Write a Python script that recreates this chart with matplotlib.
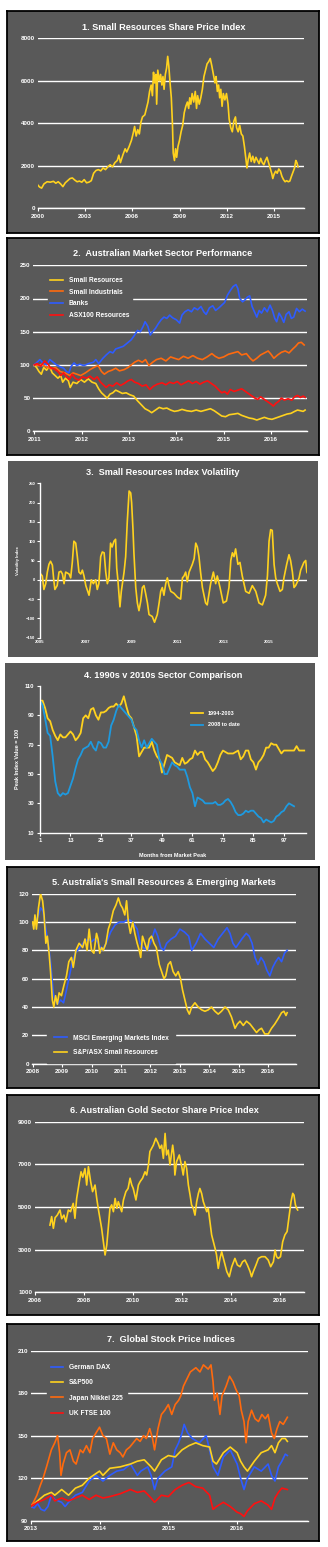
import matplotlib
matplotlib.use('Agg')
import matplotlib.pyplot as plt

plt.rcParams['font.family'] = ['Liberation Sans', 'DejaVu Sans']
plt.rcParams['font.weight'] = 'bold'

# ---------------- data ----------------
# 1. Small Resources share price index
p1_year = [2000.00, 2000.12, 2000.25, 2000.40, 2000.60, 2000.80, 2001.00, 2001.15, 2001.30, 2001.45,
           2001.60, 2001.75, 2001.90, 2002.05, 2002.20, 2002.35, 2002.50, 2002.65, 2002.80, 2002.95,
           2003.10, 2003.25, 2003.40, 2003.55, 2003.70, 2003.85, 2004.00, 2004.15, 2004.30, 2004.45,
           2004.60, 2004.75, 2004.90, 2005.05, 2005.15, 2005.25, 2005.40, 2005.55, 2005.65, 2005.80,
           2005.95, 2006.05, 2006.15, 2006.25, 2006.35, 2006.45, 2006.55, 2006.65, 2006.80, 2006.90,
           2007.00, 2007.10, 2007.20, 2007.28, 2007.35, 2007.42, 2007.50, 2007.55, 2007.62, 2007.72,
           2007.80, 2007.88, 2007.95, 2008.02, 2008.10, 2008.18, 2008.25, 2008.32, 2008.40, 2008.48,
           2008.55, 2008.60, 2008.68, 2008.75, 2008.82, 2008.90, 2009.00, 2009.10, 2009.20, 2009.30,
           2009.40, 2009.50, 2009.58, 2009.65, 2009.72, 2009.80, 2009.90, 2010.00, 2010.08, 2010.15,
           2010.25, 2010.35, 2010.45, 2010.55, 2010.65, 2010.75, 2010.85, 2010.95, 2011.05, 2011.15,
           2011.25, 2011.32, 2011.40, 2011.48, 2011.55, 2011.62, 2011.70, 2011.78, 2011.88, 2011.98,
           2012.08, 2012.15, 2012.25, 2012.35, 2012.45, 2012.55, 2012.62, 2012.72, 2012.82, 2012.92,
           2013.02, 2013.12, 2013.20, 2013.28, 2013.36, 2013.45, 2013.55, 2013.65, 2013.75, 2013.85,
           2013.95, 2014.05, 2014.15, 2014.25, 2014.35, 2014.45, 2014.55, 2014.65, 2014.75, 2014.85,
           2014.92, 2015.00, 2015.10, 2015.20, 2015.30, 2015.40, 2015.50, 2015.60, 2015.70, 2015.80,
           2015.90, 2016.00, 2016.10, 2016.20, 2016.30, 2016.38, 2016.45, 2016.52]
p1_index = [1100, 1000, 950, 1150, 1250, 1230, 1270, 1180, 1250, 1150,
            1020, 1200, 1300, 1400, 1430, 1330, 1250, 1280, 1230, 1350,
            1200, 1230, 1300, 1650, 1780, 1820, 1760, 1900, 1820, 1950,
            2050, 1950, 2150, 2250, 2500, 2150, 2500, 2800, 2650, 2900,
            3200, 3500, 3850, 3400, 3700, 3500, 4050, 4300, 4400, 4700,
            5000, 5500, 5800, 5300, 6400, 5900, 6300, 4900, 6500, 6000,
            6300, 5800, 6200, 5600, 6300, 6600, 7150, 6700, 5900, 5200,
            4000, 2600, 2250, 2800, 2400, 2900, 3200, 3600, 3900, 4500,
            4800, 5000, 4700, 5200, 4900, 5400, 5000, 5500, 4700, 5300,
            4900, 5200, 5600, 6200, 6500, 6800, 6900, 7050, 6700, 6300,
            5900, 6200, 5500, 5800, 5200, 5600, 4800, 5400, 5100, 5400,
            4900, 4200, 3800, 3600, 4100, 4300, 3800, 3600, 3900, 3500,
            3400, 2900, 2400, 1900, 2300, 2600, 2200, 2450, 2150, 2400,
            2250, 2100, 2350, 2150, 2050, 2250, 2400, 2150, 1900, 1650,
            1400, 1600, 1750, 1650, 1850, 1750, 1500, 1350, 1250, 1300,
            1250, 1280, 1500, 1700, 1900, 2250, 2150, 1950]
p1_xticks = [2000, 2003, 2006, 2009, 2012, 2015]

# 2. Australian market sector performance
p2_banks_x = [2011.00, 2011.06, 2011.12, 2011.18, 2011.26, 2011.33, 2011.40, 2011.47, 2011.55, 2011.62,
              2011.68, 2011.73, 2011.78, 2011.84, 2011.90, 2011.96, 2012.05, 2012.15, 2012.25, 2012.30,
              2012.36, 2012.45, 2012.52, 2012.60, 2012.66, 2012.72, 2012.80, 2012.88, 2012.95, 2013.05,
              2013.12, 2013.18, 2013.24, 2013.30, 2013.34, 2013.40, 2013.45, 2013.50, 2013.56, 2013.62,
              2013.68, 2013.74, 2013.80, 2013.86, 2013.92, 2014.00, 2014.07, 2014.12, 2014.18, 2014.25,
              2014.32, 2014.38, 2014.45, 2014.52, 2014.58, 2014.63, 2014.70, 2014.77, 2014.83, 2014.90,
              2014.96, 2015.02, 2015.08, 2015.14, 2015.20, 2015.26, 2015.30, 2015.34, 2015.40, 2015.45,
              2015.50, 2015.55, 2015.60, 2015.65, 2015.70, 2015.75, 2015.80, 2015.86, 2015.92, 2015.98,
              2016.03, 2016.08, 2016.12, 2016.17, 2016.22, 2016.27, 2016.32, 2016.38, 2016.43, 2016.48,
              2016.54, 2016.60, 2016.66, 2016.72]
p2_banks = [100, 104, 108, 103, 100, 108, 104, 100, 97, 95,
            90, 88, 98, 103, 99, 101, 99, 102, 104, 108,
            102, 110, 115, 120, 118, 124, 126, 128, 132, 138,
            145, 152, 150, 158, 165, 158, 145, 150, 155, 162,
            168, 172, 170, 175, 171, 168, 163, 175, 180, 183,
            180, 186, 183, 188, 180, 176, 186, 189, 182, 186,
            190, 194, 205, 212, 218, 221, 215, 200, 195, 198,
            202, 204, 188, 180, 172, 182, 178, 186, 180, 190,
            182, 170, 165, 178, 172, 164, 176, 180, 170, 172,
            185, 180, 184, 181]
p2_ind_x = [2011.00, 2011.08, 2011.16, 2011.25, 2011.35, 2011.45, 2011.55, 2011.65, 2011.75, 2011.82,
            2011.90, 2011.98, 2012.08, 2012.18, 2012.28, 2012.35, 2012.42, 2012.48, 2012.56, 2012.64,
            2012.72, 2012.80, 2012.90, 2012.98, 2013.05, 2013.12, 2013.20, 2013.28, 2013.35, 2013.42,
            2013.50, 2013.58, 2013.68, 2013.78, 2013.88, 2013.96, 2014.05, 2014.15, 2014.25, 2014.35,
            2014.45, 2014.55, 2014.65, 2014.75, 2014.82, 2014.90, 2015.00, 2015.10, 2015.20, 2015.30,
            2015.38, 2015.48, 2015.56, 2015.62, 2015.70, 2015.78, 2015.86, 2015.94, 2016.00, 2016.06,
            2016.14, 2016.22, 2016.30, 2016.38, 2016.46, 2016.52, 2016.58, 2016.64, 2016.70]
p2_ind = [100, 99, 101, 97, 94, 96, 90, 88, 84, 88,
          86, 84, 88, 93, 97, 99, 90, 86, 90, 92,
          95, 91, 93, 96, 100, 104, 107, 104, 108, 99,
          104, 108, 110, 106, 112, 110, 108, 113, 110, 114,
          110, 108, 112, 117, 113, 110, 112, 116, 118, 120,
          115, 117, 110, 106, 110, 115, 118, 121, 116, 110,
          115, 119, 121, 118, 124, 128, 133, 134, 130]
p2_asx_x = [2011.00, 2011.06, 2011.14, 2011.22, 2011.28, 2011.34, 2011.42, 2011.50, 2011.56, 2011.62,
            2011.68, 2011.74, 2011.80, 2011.86, 2011.94, 2012.02, 2012.10, 2012.18, 2012.26, 2012.33,
            2012.40, 2012.46, 2012.52, 2012.58, 2012.66, 2012.74, 2012.82, 2012.90, 2012.98, 2013.05,
            2013.12, 2013.20, 2013.28, 2013.36, 2013.44, 2013.52, 2013.60, 2013.70, 2013.78, 2013.86,
            2013.94, 2014.02, 2014.10, 2014.18, 2014.26, 2014.34, 2014.42, 2014.50, 2014.58, 2014.66,
            2014.74, 2014.82, 2014.90, 2014.96, 2015.02, 2015.08, 2015.14, 2015.22, 2015.30, 2015.38,
            2015.46, 2015.54, 2015.60, 2015.66, 2015.72, 2015.78, 2015.86, 2015.94, 2016.00, 2016.05,
            2016.10, 2016.16, 2016.22, 2016.28, 2016.36, 2016.44, 2016.50, 2016.56, 2016.62, 2016.68,
            2016.72]
p2_asx = [100, 102, 98, 106, 102, 96, 94, 90, 84, 88,
          82, 78, 86, 80, 77, 82, 80, 83, 78, 82,
          74, 70, 66, 70, 68, 73, 69, 72, 76, 78,
          74, 72, 68, 70, 63, 68, 71, 73, 70, 74,
          72, 75, 70, 73, 76, 72, 75, 71, 74, 76,
          72, 68, 62, 58, 60, 56, 63, 60, 62, 64,
          60, 56, 53, 50, 48, 52, 48, 44, 41, 38,
          42, 45, 50, 47, 49, 47, 52, 54, 51, 53,
          51]
p2_res_x = [2011.00, 2011.05, 2011.10, 2011.15, 2011.20, 2011.26, 2011.32, 2011.38, 2011.44, 2011.50,
            2011.56, 2011.60, 2011.66, 2011.72, 2011.76, 2011.82, 2011.90, 2011.98, 2012.06, 2012.14,
            2012.22, 2012.30, 2012.36, 2012.42, 2012.48, 2012.54, 2012.60, 2012.66, 2012.72, 2012.78,
            2012.86, 2012.94, 2013.02, 2013.10, 2013.18, 2013.26, 2013.34, 2013.42, 2013.48, 2013.56,
            2013.64, 2013.72, 2013.80, 2013.88, 2013.96, 2014.04, 2014.12, 2014.22, 2014.32, 2014.42,
            2014.52, 2014.62, 2014.72, 2014.80, 2014.88, 2014.96, 2015.04, 2015.12, 2015.22, 2015.30,
            2015.38, 2015.46, 2015.54, 2015.62, 2015.70, 2015.78, 2015.86, 2015.94, 2016.02, 2016.10,
            2016.18, 2016.26, 2016.34, 2016.42, 2016.50, 2016.56, 2016.62, 2016.68, 2016.72]
p2_res = [100, 96, 90, 86, 96, 92, 98, 88, 84, 80,
          84, 74, 80, 76, 66, 74, 72, 78, 74, 79,
          74, 72, 64, 58, 54, 50, 56, 58, 62, 60,
          57, 58, 55, 53, 46, 40, 34, 31, 28, 32,
          36, 34, 35, 32, 30, 31, 33, 31, 30, 32,
          30, 32, 34, 31, 27, 23, 22, 25, 26, 27,
          24, 22, 20, 19, 17, 19, 21, 19, 18, 20,
          22, 24, 26, 27, 30, 32, 31, 30, 32]
p2_labels = ['Small Resources', 'Small Industrials', 'Banks', 'ASX100 Resources']
p2_xticks = [2011, 2012, 2013, 2014, 2015, 2016]

# 3. Small Resources index volatility
p3_year = [2005.03, 2005.10, 2005.17, 2005.25, 2005.32, 2005.39, 2005.46, 2005.54, 2005.60, 2005.65,
           2005.75, 2005.83, 2005.91, 2005.98, 2006.05, 2006.12, 2006.27, 2006.34, 2006.41, 2006.48,
           2006.56, 2006.63, 2006.70, 2006.78, 2006.85, 2006.92, 2007.00, 2007.14, 2007.24, 2007.33,
           2007.43, 2007.50, 2007.57, 2007.65, 2007.72, 2007.80, 2007.87, 2007.94, 2008.01, 2008.08,
           2008.15, 2008.23, 2008.30, 2008.35, 2008.40, 2008.49, 2008.55, 2008.67, 2008.74, 2008.81,
           2008.89, 2008.96, 2009.00, 2009.06, 2009.10, 2009.18, 2009.25, 2009.32, 2009.40, 2009.47,
           2009.54, 2009.61, 2009.69, 2009.76, 2009.90, 2010.00, 2010.12, 2010.20, 2010.27, 2010.34,
           2010.41, 2010.49, 2010.56, 2010.63, 2010.71, 2010.85, 2011.00, 2011.14, 2011.22, 2011.29,
           2011.36, 2011.43, 2011.51, 2011.65, 2011.73, 2011.80, 2011.87, 2011.94, 2012.01, 2012.09,
           2012.23, 2012.30, 2012.45, 2012.57, 2012.67, 2012.74, 2012.86, 2013.00, 2013.14, 2013.25,
           2013.33, 2013.40, 2013.47, 2013.54, 2013.64, 2013.73, 2013.83, 2013.98, 2014.13, 2014.27,
           2014.42, 2014.56, 2014.71, 2014.85, 2014.93, 2015.00, 2015.07, 2015.14, 2015.22, 2015.29,
           2015.36, 2015.48, 2015.58, 2015.65, 2015.77, 2015.87, 2015.94, 2016.02, 2016.09, 2016.16,
           2016.24, 2016.31, 2016.38, 2016.45, 2016.52, 2016.60, 2016.65, 2016.70]
p3_vol = [15, 10, -25, -10, 20, 40, 48, 38, 0, -25,
          -15, 20, 22, 15, -10, 20, 15, 5, 45, 100,
          95, 60, 20, 15, 25, 10, -15, -40, 0, -10,
          0, -25, -10, 60, 72, 70, 20, -10, 5, 95,
          85, 100, 105, 30, 0, -70, -30, 20, 60, 150,
          230, 225, 200, 130, 70, -20, -60, -80, -55, -20,
          -15, -35, -60, -90, -95, -110, -90, -60, -30, -20,
          -40, -10, 5, -15, -30, -35, -45, -50, 5, 10,
          20, -5, 20, 40, 55, 95, 85, 60, 20, -20,
          -60, -65, -10, 20, -10, 10, -20, -60, -55, -20,
          50, 70, 60, 80, 40, 45, 10, -30, -35, -15,
          -30, -60, -65, -40, 10, 100, 130, 128, 40, 5,
          -10, -30, -25, 5, 40, 65, 50, 20, -20, -15,
          -5, 5, 25, 35, 45, 50, 20, 15]
p3_xticks = [2005, 2007, 2009, 2011, 2013, 2015]

# 4. 1990s v 2010s sector comparison (monthly, month 1 = market peak)
p4_1994 = [100, 100, 95, 88, 86, 80, 76, 73, 77, 75,
           75, 77, 79, 77, 73, 75, 78, 88, 90, 88,
           94, 95, 90, 87, 92, 92, 93, 95, 96, 96,
           98, 96, 98, 103, 96, 90, 88, 82, 76, 62,
           65, 68, 68, 68, 72, 66, 62, 60, 51, 57,
           63, 62, 61, 58, 57, 56, 61, 57, 58, 60,
           61, 66, 63, 65, 65, 60, 58, 55, 52, 54,
           58, 63, 66, 65, 64, 64, 64, 65, 66, 60,
           62, 66, 66, 60, 58, 53, 58, 60, 63, 68,
           68, 71, 70, 70, 67, 64, 66, 66, 66, 66,
           66, 69, 66, 66, 66]
p4_2008 = [100, 97, 88, 78, 76, 62, 45, 37, 35, 37,
           36, 37, 42, 47, 54, 60, 63, 67, 68, 69,
           72, 68, 66, 72, 71, 68, 68, 72, 83, 87,
           93, 97, 95, 93, 91, 89, 87, 82, 80, 73,
           68, 73, 68, 71, 74, 72, 70, 60, 57, 50,
           50, 54, 58, 56, 55, 53, 53, 53, 48, 41,
           37, 28, 34, 33, 32, 30, 30, 30, 30, 31,
           29, 29, 30, 32, 33, 31, 28, 24, 22, 22,
           23, 25, 24, 25, 25, 23, 21, 20, 17, 19,
           18, 17, 18, 21, 22, 24, 25, 28, 30, 29,
           28]
p4_xticks = [1, 13, 25, 37, 49, 61, 73, 85, 97]

# 5. Small resources & emerging markets
p5_msci_x = [2008.00, 2008.10, 2008.20, 2008.27, 2008.35, 2008.45, 2008.55, 2008.62, 2008.70, 2008.76,
             2008.85, 2008.95, 2009.05, 2009.15, 2009.25, 2009.35, 2009.45, 2009.60, 2009.75, 2009.90,
             2010.00, 2010.10, 2010.20, 2010.35, 2010.50, 2010.65, 2010.80, 2010.95, 2011.10, 2011.25,
             2011.40, 2011.55, 2011.65, 2011.75, 2011.90, 2012.05, 2012.15, 2012.25, 2012.35, 2012.45,
             2012.55, 2012.70, 2012.85, 2013.00, 2013.15, 2013.30, 2013.40, 2013.55, 2013.70, 2013.85,
             2014.00, 2014.15, 2014.30, 2014.45, 2014.60, 2014.70, 2014.80, 2014.90, 2015.00, 2015.10,
             2015.25, 2015.35, 2015.45, 2015.55, 2015.65, 2015.75, 2015.85, 2015.95, 2016.05, 2016.15,
             2016.25, 2016.35, 2016.45, 2016.55, 2016.64]
p5_msci = [98, 100, 105, 110, 108, 95, 82, 70, 50, 45,
           42, 45, 43, 52, 62, 72, 78, 82, 86, 88,
           86, 88, 86, 80, 85, 93, 98, 100, 100, 102,
           100, 95, 85, 82, 80, 88, 95, 90, 82, 80,
           85, 88, 90, 95, 93, 90, 80, 85, 92, 88,
           85, 82, 88, 92, 96, 92, 85, 82, 85, 88,
           92, 90, 85, 75, 70, 75, 72, 66, 62, 68,
           72, 75, 72, 78, 80]
p5_res_x = [2008.00, 2008.04, 2008.08, 2008.13, 2008.20, 2008.27, 2008.34, 2008.39, 2008.45, 2008.50,
            2008.56, 2008.61, 2008.67, 2008.72, 2008.78, 2008.84, 2008.90, 2008.98, 2009.06, 2009.15,
            2009.23, 2009.32, 2009.38, 2009.47, 2009.58, 2009.70, 2009.78, 2009.85, 2009.92, 2010.00,
            2010.08, 2010.17, 2010.22, 2010.28, 2010.34, 2010.40, 2010.49, 2010.57, 2010.65, 2010.74,
            2010.83, 2010.91, 2010.99, 2011.05, 2011.13, 2011.19, 2011.25, 2011.32, 2011.40, 2011.47,
            2011.55, 2011.62, 2011.67, 2011.73, 2011.81, 2011.89, 2011.96, 2012.04, 2012.12, 2012.20,
            2012.30, 2012.38, 2012.46, 2012.52, 2012.60, 2012.68, 2012.77, 2012.86, 2012.94, 2013.02,
            2013.09, 2013.17, 2013.25, 2013.32, 2013.40, 2013.51, 2013.62, 2013.74, 2013.85, 2013.96,
            2014.07, 2014.19, 2014.30, 2014.41, 2014.53, 2014.64, 2014.75, 2014.87, 2014.95, 2015.04,
            2015.15, 2015.26, 2015.38, 2015.49, 2015.60, 2015.69, 2015.77, 2015.88, 2016.00, 2016.11,
            2016.22, 2016.34, 2016.45, 2016.53, 2016.60, 2016.64]
p5_res = [100, 95, 105, 95, 110, 120, 115, 105, 85, 90,
          78, 65, 45, 40, 48, 42, 50, 48, 55, 62,
          72, 75, 68, 80, 85, 82, 88, 80, 95, 80,
          78, 92, 88, 78, 82, 80, 85, 95, 100, 108,
          112, 117, 112, 110, 105, 115, 100, 92, 100, 92,
          85, 80, 75, 90, 85, 80, 88, 90, 85, 82,
          70, 65, 60, 62, 70, 72, 65, 62, 65, 60,
          52, 45, 38, 35, 40, 43, 40, 38, 37, 38,
          40, 37, 35, 37, 40, 38, 33, 25, 28, 30,
          27, 30, 28, 25, 22, 24, 25, 21, 21, 25,
          28, 32, 36, 37, 34, 36]
p5_labels = ['MSCI Emerging Markets Index', 'S&P/ASX Small Resources']
p5_xticks = [2008, 2009, 2010, 2011, 2012, 2013, 2014, 2015, 2016]

# 6. Australian gold sector share price index
p6_year = [2006.61, 2006.68, 2006.75, 2006.82, 2006.91, 2007.02, 2007.09, 2007.18, 2007.26, 2007.36,
           2007.45, 2007.56, 2007.63, 2007.70, 2007.81, 2007.88, 2007.95, 2008.04, 2008.11, 2008.18,
           2008.27, 2008.35, 2008.45, 2008.52, 2008.58, 2008.65, 2008.72, 2008.79, 2008.86, 2008.93,
           2008.99, 2009.06, 2009.13, 2009.20, 2009.27, 2009.34, 2009.40, 2009.54, 2009.61, 2009.71,
           2009.80, 2009.88, 2009.95, 2010.01, 2010.12, 2010.22, 2010.29, 2010.39, 2010.49, 2010.56,
           2010.63, 2010.69, 2010.76, 2010.83, 2010.93, 2011.03, 2011.10, 2011.17, 2011.24, 2011.31,
           2011.37, 2011.44, 2011.51, 2011.62, 2011.67, 2011.71, 2011.78, 2011.89, 2011.99, 2012.05,
           2012.12, 2012.19, 2012.26, 2012.33, 2012.39, 2012.46, 2012.53, 2012.60, 2012.67, 2012.73,
           2012.80, 2012.87, 2012.94, 2013.01, 2013.07, 2013.14, 2013.21, 2013.28, 2013.35, 2013.41,
           2013.48, 2013.55, 2013.62, 2013.69, 2013.76, 2013.83, 2013.93, 2014.03, 2014.16, 2014.26,
           2014.37, 2014.47, 2014.57, 2014.67, 2014.78, 2014.84, 2014.91, 2015.02, 2015.12, 2015.25,
           2015.39, 2015.52, 2015.62, 2015.73, 2015.80, 2015.86, 2015.93, 2016.02, 2016.11, 2016.20,
           2016.29, 2016.38, 2016.45, 2016.52, 2016.57, 2016.63, 2016.68, 2016.72]
p6_gold = [4150, 4550, 4000, 4500, 4620, 4860, 4450, 4620, 4300, 4860,
           4780, 5170, 4470, 5400, 6190, 6650, 6400, 6800, 6030, 6890,
           6200, 5720, 6030, 5400, 4940, 4470, 4000, 3370, 2750, 3220,
           4000, 4940, 5100, 4780, 5400, 4940, 5250, 4780, 5330, 5720,
           5870, 6350, 6030, 5870, 5330, 6030, 6190, 6350, 6650, 6500,
           6970, 7600, 7750, 7900, 8220, 7980, 7750, 7900, 7280, 8450,
           7440, 7670, 6970, 7900, 7440, 6500, 7130, 7440, 6890, 6500,
           7130, 6810, 6030, 5560, 5100, 4940, 4620, 5250, 5640, 5870,
           5640, 5250, 5020, 4780, 4940, 4310, 3690, 3370, 3060, 2750,
           2120, 2590, 2900, 2590, 2280, 1970, 1730, 2200, 2590, 2280,
           2200, 2430, 2510, 2280, 1970, 1730, 1970, 2280, 2590, 2670,
           2670, 2510, 2200, 2430, 2980, 2670, 2590, 2670, 3370, 3690,
           3850, 4620, 5250, 5640, 5560, 5100, 4940, 4860]
p6_yticks = [1000, 3000, 5000, 7000, 9000]
p6_xticks = [2006, 2008, 2010, 2012, 2014, 2016]

# 7. Global stock price indices
p7_nik_x = [2013.00, 2013.04, 2013.09, 2013.14, 2013.18, 2013.23, 2013.30, 2013.35, 2013.39, 2013.42,
            2013.44, 2013.47, 2013.52, 2013.57, 2013.62, 2013.66, 2013.72, 2013.76, 2013.81, 2013.86,
            2013.90, 2013.95, 2014.00, 2014.05, 2014.10, 2014.15, 2014.20, 2014.25, 2014.30, 2014.34,
            2014.39, 2014.44, 2014.49, 2014.54, 2014.59, 2014.64, 2014.68, 2014.73, 2014.77, 2014.80,
            2014.85, 2014.90, 2014.95, 2015.00, 2015.05, 2015.10, 2015.15, 2015.18, 2015.22, 2015.27,
            2015.32, 2015.40, 2015.46, 2015.51, 2015.58, 2015.62, 2015.65, 2015.67, 2015.71, 2015.75,
            2015.78, 2015.84, 2015.89, 2015.94, 2015.98, 2016.03, 2016.06, 2016.10, 2016.13, 2016.16,
            2016.21, 2016.26, 2016.31, 2016.36, 2016.41, 2016.45, 2016.50, 2016.54, 2016.58, 2016.62,
            2016.67, 2016.73]
p7_nik = [100, 103, 108, 115, 120, 128, 140, 145, 150, 138,
          122, 130, 138, 140, 132, 130, 140, 138, 143, 138,
          148, 152, 156, 150, 148, 137, 145, 140, 138, 135,
          140, 142, 145, 148, 146, 150, 148, 155, 148, 140,
          155, 165, 168, 172, 165, 172, 175, 178, 185, 190,
          195, 198, 195, 200, 197, 200, 188, 175, 180, 165,
          178, 185, 192, 188, 183, 178, 168, 160, 145, 160,
          168, 162, 160, 165, 162, 165, 152, 148, 155, 160,
          158, 163]
p7_sp_x = [2013.00, 2013.10, 2013.20, 2013.30, 2013.35, 2013.45, 2013.55, 2013.65, 2013.75, 2013.85,
           2014.00, 2014.05, 2014.15, 2014.30, 2014.45, 2014.55, 2014.65, 2014.75, 2014.80, 2014.90,
           2015.00, 2015.10, 2015.20, 2015.30, 2015.40, 2015.50, 2015.60, 2015.65, 2015.70, 2015.80,
           2015.90, 2016.00, 2016.05, 2016.10, 2016.15, 2016.25, 2016.35, 2016.45, 2016.50, 2016.55,
           2016.60, 2016.65, 2016.70, 2016.73]
p7_sp = [100, 104, 108, 110, 108, 112, 108, 113, 115, 120,
         125, 122, 127, 128, 130, 132, 133, 128, 125, 133,
         136, 135, 140, 143, 145, 143, 142, 132, 130, 138,
         142, 138, 132, 128, 125, 132, 138, 140, 143, 138,
         145, 148, 148, 146]
p7_dax_x = [2013.00, 2013.05, 2013.10, 2013.15, 2013.20, 2013.25, 2013.30, 2013.35, 2013.45, 2013.50,
            2013.55, 2013.65, 2013.75, 2013.85, 2013.95, 2014.05, 2014.10, 2014.15, 2014.25, 2014.35,
            2014.45, 2014.55, 2014.60, 2014.70, 2014.75, 2014.80, 2014.85, 2014.95, 2015.05, 2015.10,
            2015.15, 2015.20, 2015.23, 2015.28, 2015.35, 2015.45, 2015.55, 2015.60, 2015.65, 2015.72,
            2015.80, 2015.90, 2015.95, 2016.00, 2016.05, 2016.10, 2016.15, 2016.25, 2016.35, 2016.45,
            2016.50, 2016.55, 2016.60, 2016.65, 2016.70, 2016.73]
p7_dax = [100, 99, 102, 98, 97, 100, 108, 105, 103, 100,
          103, 108, 110, 118, 122, 118, 120, 122, 125, 126,
          130, 122, 125, 128, 122, 112, 120, 125, 128, 140,
          145, 152, 158, 152, 148, 145, 150, 140, 128, 122,
          135, 140, 135, 130, 120, 112, 120, 128, 125, 130,
          122, 118, 128, 132, 137, 136]
p7_ftse_x = [2013.00, 2013.10, 2013.20, 2013.30, 2013.35, 2013.45, 2013.55, 2013.65, 2013.75, 2013.85,
             2013.95, 2014.05, 2014.15, 2014.30, 2014.45, 2014.55, 2014.65, 2014.75, 2014.80, 2014.90,
             2015.00, 2015.10, 2015.20, 2015.30, 2015.40, 2015.50, 2015.60, 2015.65, 2015.70, 2015.80,
             2015.90, 2016.00, 2016.05, 2016.10, 2016.15, 2016.25, 2016.35, 2016.45, 2016.50, 2016.55,
             2016.60, 2016.65, 2016.73]
p7_ftse = [100, 103, 105, 108, 104, 106, 104, 106, 108, 105,
           108, 106, 107, 109, 112, 110, 111, 106, 103, 108,
           107, 112, 115, 117, 114, 113, 108, 98, 100, 103,
           100, 96, 95, 93, 97, 102, 104, 101, 98, 106,
           110, 113, 112]
p7_labels = ['German DAX', 'S&P500', 'Japan Nikkei 225', 'UK FTSE 100']
p7_xticks = [2013, 2014, 2015, 2016]

# ---------------- drawing ----------------
BG = '#595959'
YEL = '#FFD21E'
ORA = '#FF6A0E'
BLU = '#2E5CFF'
RED = '#FF1010'
CYAN = '#1E9AE0'
LW = 1.2

W, H = 328, 1547
fig = plt.figure(figsize=(W / 100, H / 100), dpi=100, facecolor='white')


def box(x0, y0, x1, y1):
    return [x0 / W, 1 - y1 / H, (x1 - x0) / W, (y1 - y0) / H]


def panel(frame, area, title, tx, ty, border=True, tsize=6.6):
    bg = fig.add_axes(box(*frame))
    bg.set_facecolor(BG)
    bg.set_xticks([])
    bg.set_yticks([])
    for s in bg.spines.values():
        s.set_visible(border)
        s.set_color('black')
        s.set_linewidth(1.3)
    fig.text(tx / W, 1 - ty / H, title, ha='center', va='center',
             color='white', fontsize=tsize, fontweight='bold')
    ax = fig.add_axes(box(*area))
    ax.set_facecolor('none')
    for s in ax.spines.values():
        s.set_visible(False)
    ax.tick_params(colors='white', labelsize=4.5, length=0, pad=2)
    return ax


def gridded(ax):
    ax.spines['bottom'].set_visible(True)
    ax.spines['bottom'].set_color('white')
    ax.spines['bottom'].set_linewidth(1)
    ax.tick_params(axis='x', length=2, width=0.8, direction='out', color='white', pad=2)
    ax.yaxis.grid(True, color='white', lw=1)
    ax.set_axisbelow(True)


def legend(ax, anchor, **kw):
    opts = dict(loc='upper left', bbox_to_anchor=anchor, fontsize=4.8, labelcolor='white',
                facecolor=BG, edgecolor=BG, framealpha=1, fancybox=False,
                handlelength=1.9, handletextpad=0.9, borderpad=0.4, labelspacing=0.8)
    opts.update(kw)
    leg = ax.legend(**opts)
    leg.set_zorder(5)
    return leg


# panel 1
ax = panel((7, 11, 319, 233), (37.7, 38.3, 304, 208.3),
           '1. Small Resources Share Price Index', 163.5, 28)
gridded(ax)
ax.plot(p1_year, p1_index, color=YEL, lw=LW)
ax.set_xlim(2000, 2016.9)
ax.set_ylim(0, 8000)
ax.set_yticks([0, 2000, 4000, 6000, 8000])
ax.set_xticks(p1_xticks)

# panel 2
ax = panel((7, 238, 319, 455), (33.3, 265.3, 307, 431.3),
           '2.  Australian Market Sector Performance', 163, 253.7)
gridded(ax)
ax.plot(p2_res_x, p2_res, color=YEL, lw=LW, label=p2_labels[0])
ax.plot(p2_ind_x, p2_ind, color=ORA, lw=LW, label=p2_labels[1])
ax.plot(p2_banks_x, p2_banks, color=BLU, lw=LW, label=p2_labels[2])
ax.plot(p2_asx_x, p2_asx, color=RED, lw=LW, label=p2_labels[3])
ax.set_xlim(2010.98, 2016.76)
ax.set_ylim(0, 250)
ax.set_yticks([0, 50, 100, 150, 200, 250])
ax.set_xticks(p2_xticks)
legend(ax, (0.04, 0.965), labelspacing=0.7)

# panel 3
ax = panel((8, 461, 318, 657), (40, 483.3, 307.3, 637.7),
           '3.  Small Resources Index Volatility', 163, 472.7, border=False)
ax.spines['left'].set_visible(True)
ax.spines['left'].set_color('white')
ax.spines['left'].set_linewidth(1)
ax.tick_params(axis='y', length=2, width=0.8, direction='out', color='white', labelsize=3, pad=1.5)
ax.tick_params(axis='x', labelsize=3.2, pad=1.5)
ax.axhline(0, color='white', lw=1)
ax.plot(p3_year, p3_vol, color=YEL, lw=LW)
ax.set_xlim(2005, 2016.67)
ax.set_ylim(-150, 250)
ax.set_yticks(range(-150, 251, 50))
ax.set_xticks(p3_xticks)
ax.set_ylabel('Volatility Index', color='white', fontsize=3, fontweight='bold')
ax.yaxis.set_label_coords(-0.075, 0.5)

# panel 4
ax = panel((5, 663, 315, 860), (40, 686, 306, 832.7),
           '4. 1990s v 2010s Sector Comparison', 163, 676, border=False)
for side in ('left', 'bottom'):
    ax.spines[side].set_visible(True)
    ax.spines[side].set_color('white')
    ax.spines[side].set_linewidth(1)
ax.tick_params(length=2, width=0.8, direction='out', color='white', labelsize=4.2, pad=2)
months_a = range(1, len(p4_1994) + 1)
months_b = range(1, len(p4_2008) + 1)
ax.plot(months_a, p4_1994, color=YEL, lw=1.3, label='1994-2003')
ax.plot(months_b, p4_2008, color=CYAN, lw=1.3, label='2008 to date')
ax.set_xlim(1, 105.7)
ax.set_ylim(10, 110)
ax.set_yticks([10, 30, 50, 70, 90, 110])
ax.set_xticks(p4_xticks)
ax.set_ylabel('Peak Index Value = 100', color='white', fontsize=4, fontweight='bold')
ax.yaxis.set_label_coords(-0.075, 0.5)
ax.set_xlabel('Months from Market Peak', color='white', fontsize=4, fontweight='bold')
ax.xaxis.set_label_coords(0.5, -0.136)
legend(ax, (0.556, 0.85), frameon=False, fontsize=4.0, labelspacing=1.2,
       handlelength=2.2, borderpad=0)

# panel 5
ax = panel((7, 867, 319, 1088), (31.7, 893.7, 296, 1063.7),
           "5. Australia's Small Resources & Emerging Markets", 164, 882.7)
gridded(ax)
ax.plot(p5_msci_x, p5_msci, color=BLU, lw=LW, label=p5_labels[0])
ax.plot(p5_res_x, p5_res, color=YEL, lw=LW, label=p5_labels[1])
ax.set_xlim(2007.97, 2016.94)
ax.set_ylim(0, 120)
ax.set_yticks([0, 20, 40, 60, 80, 100, 120])
ax.set_xticks(p5_xticks)
legend(ax, (0.045, 0.23), borderpad=1.0, labelspacing=1.1, handlelength=2.0)

# panel 6
ax = panel((7, 1095, 319, 1315), (35, 1121.7, 304, 1292.3),
           '6. Australian Gold Sector Share Price Index', 164, 1110.7)
gridded(ax)
ax.plot(p6_year, p6_gold, color=YEL, lw=LW)
ax.set_xlim(2006, 2016.98)
ax.set_ylim(1000, 9000)
ax.set_yticks(p6_yticks)
ax.set_xticks(p6_xticks)

# panel 7
ax = panel((7, 1324, 319, 1541), (30.7, 1350.7, 308, 1520.7),
           '7.  Global Stock Price Indices', 171, 1339.3)
gridded(ax)
ax.plot(p7_dax_x, p7_dax, color=BLU, lw=LW, label=p7_labels[0])
ax.plot(p7_sp_x, p7_sp, color=YEL, lw=LW, label=p7_labels[1])
ax.plot(p7_nik_x, p7_nik, color=ORA, lw=LW, label=p7_labels[2])
ax.plot(p7_ftse_x, p7_ftse, color=RED, lw=LW, label=p7_labels[3])
ax.set_xlim(2013, 2017.03)
ax.set_ylim(90, 210)
ax.set_yticks([90, 120, 150, 180, 210])
ax.set_xticks(p7_xticks)
legend(ax, (0.045, 0.965), labelspacing=1.25, borderpad=0.6)

fig.savefig('out.png', dpi=100, facecolor='white')
